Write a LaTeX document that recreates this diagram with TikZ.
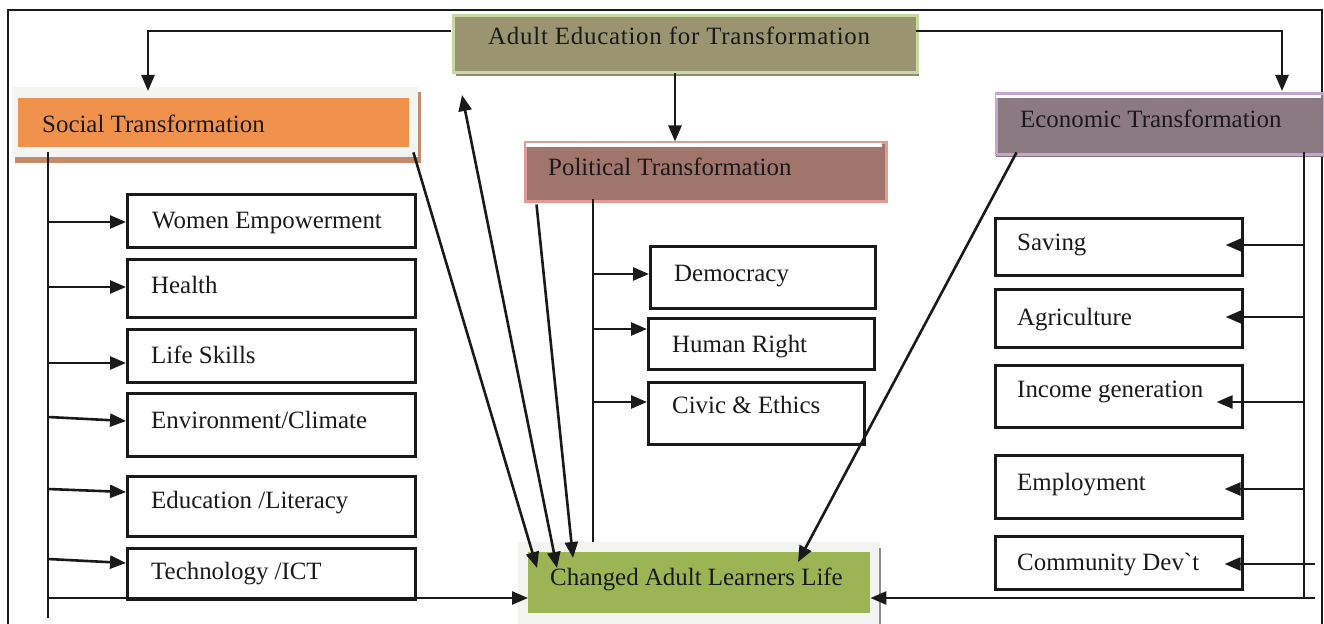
\documentclass[tikz,border=0pt]{standalone}
\usepackage{fontspec}
\setmainfont{Liberation Serif}
\usetikzlibrary{arrows.meta,calc}
\definecolor{aefill}{HTML}{9A9570}
\definecolor{aeedge}{HTML}{C6D9A0}
\definecolor{aeshadow}{HTML}{8E8C74}
\definecolor{sofill}{HTML}{F0924C}
\definecolor{sogray}{HTML}{F4F4F2}
\definecolor{soshadow}{HTML}{C48B6A}
\definecolor{pofill}{HTML}{A0756B}
\definecolor{poedge}{HTML}{E29A96}
\definecolor{poshadow}{HTML}{9B6E64}
\definecolor{ecfill}{HTML}{8C7A83}
\definecolor{ecedge}{HTML}{C4A6CC}
\definecolor{ecshadow}{HTML}{85737C}
\definecolor{chfill}{HTML}{9BB454}
\definecolor{chgray}{HTML}{F3F3F1}
\definecolor{ink}{HTML}{1A1A1A}
\tikzset{
 lbl/.style={font=\fontsize{25}{30}\selectfont, text=ink, inner sep=0pt, anchor=base west},
 itembox/.style={draw=ink, line width=2.6bp, fill=white, rectangle, inner sep=0pt, anchor=north west},
 plainbox/.style={rectangle, inner sep=0pt, anchor=north west},
 ln/.style={draw=ink, line width=2.6bp},
 arr/.style={ln, -{Triangle[length=16bp,width=13bp]}},
 dblarr/.style={ln, {Triangle[length=16bp,width=13bp]}-{Triangle[length=16bp,width=13bp]}},
}
\begin{document}
\begin{tikzpicture}[x=1bp,y=-1bp]
\useasboundingbox (0,0) rectangle (1324,624);
% outer frame
\draw[ln] (8,640) -- (8,10) -- (1322,10) -- (1322,640);

% Adult Education header
\fill[aeshadow] (456,20) rectangle (919,76);
\node[plainbox, draw=aeedge, line width=3bp, fill=aefill, minimum width=464bp, minimum height=57bp] (ae) at (451.5,14.5) {};
\node[lbl] (aeT) at (488,45) {\addfontfeature{LetterSpace=3}Adult Education for Transformation};

% Social header
\fill[soshadow] (15,92) rectangle (421,163);
\node[plainbox, fill=sogray, minimum width=406bp, minimum height=70bp] (socbox) at (12,87) {};
\node[plainbox, fill=sofill, minimum width=391bp, minimum height=49bp] (soc) at (18,98) {};
\node[lbl] (socT) at (42,133) {Social Transformation};

% Political header
\fill[poshadow] (526,146) rectangle (887,203);
\node[plainbox, draw=poedge, line width=3bp, fill=pofill, minimum width=361bp, minimum height=58bp] (pol) at (523.5,141.5) {};
\draw[white, line width=4bp] (526,145.5) -- (882,145.5);
\node[lbl] (polT) at (548,176) {Political Transformation};

% Economic header
\fill[ecshadow] (996,150) rectangle (1324,157);
\node[plainbox, draw=ecedge, line width=3bp, fill=ecfill, minimum width=328bp, minimum height=60bp] (eco) at (994.5,92.5) {};
\draw[white, line width=3bp] (996,96.5) -- (1321,96.5);
\node[lbl] (ecoT) at (1020,128) {Economic Transformation};

% Changed box
\node[plainbox, fill=chgray, minimum width=362bp, minimum height=90bp] (chbox) at (518,542) {};
\draw[black!45, line width=1.5bp] (880,548) -- (880,624);
\node[plainbox, fill=chfill, minimum width=342bp, minimum height=61bp] (ch) at (528,552) {};
\node[lbl] (chT) at (550,585) {Changed Adult Learners Life};

% Social items
\node[itembox, minimum width=288bp, minimum height=53bp] (women) at (126,193) {};
\node[lbl] at (152,228) {Women Empowerment};
\node[itembox, minimum width=288bp, minimum height=58bp] (health) at (126,258) {};
\node[lbl] at (151,293) {Health};
\node[itembox, minimum width=288bp, minimum height=53bp] (life) at (126,328) {};
\node[lbl] at (151,363) {Life Skills};
\node[itembox, minimum width=288bp, minimum height=63bp] (env) at (126,392) {};
\node[lbl] at (151,428) {Environment/Climate};
\node[itembox, minimum width=288bp, minimum height=60bp] (edu) at (126,475) {};
\node[lbl] at (151,508) {Education /Literacy};
\node[itembox, minimum width=288bp, minimum height=51bp] (tech) at (126,547) {};
\node[lbl] at (151,579) {Technology /ICT};

% Political items
\node[itembox, minimum width=225bp, minimum height=62bp] (demo) at (649,245) {};
\node[lbl] at (674,281) {Democracy};
\node[itembox, minimum width=226bp, minimum height=51bp] (human) at (647,317) {};
\node[lbl] at (672,352) {Human Right};
\node[itembox, minimum width=216bp, minimum height=62bp] (civic) at (647,381) {};
\node[lbl] at (672,413) {Civic \& Ethics};

% Economic items
\node[itembox, minimum width=247bp, minimum height=57bp] (saving) at (994,217) {};
\node[lbl] at (1017,250) {Saving};
\node[itembox, minimum width=247bp, minimum height=58bp] (agri) at (994,288) {};
\node[lbl] at (1017,325) {Agriculture};
\node[itembox, minimum width=247bp, minimum height=62bp] (income) at (994,364) {};
\node[lbl] at (1017,397) {Income generation};
\node[itembox, minimum width=247bp, minimum height=63bp] (employ) at (994,454) {};
\node[lbl] at (1017,490) {Employment};
\node[itembox, minimum width=247bp, minimum height=53bp] (commun) at (994,535) {};
\node[lbl] at (1017,570) {Community Dev\textasciigrave t};

% top connectors
\coordinate (aeL) at (451,31);
\coordinate (aeR) at (916,31);
\coordinate (socTop) at (148,91);
\coordinate (ecoTop) at (1282,91);
\coordinate (aeB) at (675,73);
\draw[arr] (aeL) -| (socTop);
\draw[arr] (aeR) -| (ecoTop);
\draw[arr] (aeB) -- (aeB |- pol.north);

% left spine
\coordinate (ls0) at (48,152);
\coordinate (ls1) at (48,618);
\draw[ln] (ls0) -- (ls1);
\coordinate (s1) at (48,222);
\coordinate (s2) at (48,287);
\coordinate (s3) at (48,363);
\coordinate (s4) at (48,417);
\coordinate (s5) at (48,489);
\coordinate (s6) at (48,559);
\draw[arr] (s1) -- (women.west |- s1);
\draw[arr] (s2) -- (health.west |- s2);
\draw[arr] (s3) -- (life.west |- s3);
\draw[arr] (s4) -- ($(env.west |- s4)+(0,4)$);
\draw[arr] (s5) -- ($(edu.west |- s5)+(0,3)$);
\draw[arr] (s6) -- ($(tech.west |- s6)+(0,4)$);
\coordinate (lb) at (48,598);
\draw[arr] (lb) -- (ch.west |- lb);

% political spine
\coordinate (p0) at (593,199);
\coordinate (p1) at (593,542);
\draw[ln] (p0) -- (p1);
\coordinate (ps1) at (593,274);
\coordinate (ps2) at (593,329);
\coordinate (ps3) at (593,402);
\draw[arr] (ps1) -- (demo.west |- ps1);
\draw[arr] (ps2) -- (human.west |- ps2);
\draw[arr] (ps3) -- (civic.west |- ps3);

% economic spine
\coordinate (e0) at (1304,152);
\coordinate (e1) at (1304,598);
\draw[ln] (e0) -- (e1);
\coordinate (es1) at (1304,245);
\coordinate (es2) at (1304,317);
\coordinate (es3) at (1304,402);
\coordinate (es4) at (1304,489);
\coordinate (es5) at (1315,564);
\draw[arr] (es1) -- ($(saving.east |- es1)+(-18,0)$);
\draw[arr] (es2) -- ($(agri.east |- es2)+(-18,0)$);
\draw[arr] (es3) -- ($(income.east |- es3)+(-27,0)$);
\draw[arr] (es4) -- ($(employ.east |- es4)+(-19,0)$);
\draw[arr] (es5) -- ($(commun.east |- es5)+(-19,0)$);
\coordinate (rb) at (1315,598);
\draw[arr] (rb) -- (ch.east |- rb);

% diagonals
\coordinate (upTip) at (462,95);
\draw[arr] ($(socbox.south east)+(-5,-5)$) -- ($(ch.north west)+(9,16)$);
\draw[dblarr] ($(ch.north west)+(29,16)$) -- (upTip);
\draw[arr] ($(pol.south west)+(13,2)$) -- ($(ch.north west)+(45,6)$);
\draw[arr] ($(eco.south west)+(22,-3)$) -- ($(ch.north west)+(270,10)$);
\end{tikzpicture}
\end{document}
